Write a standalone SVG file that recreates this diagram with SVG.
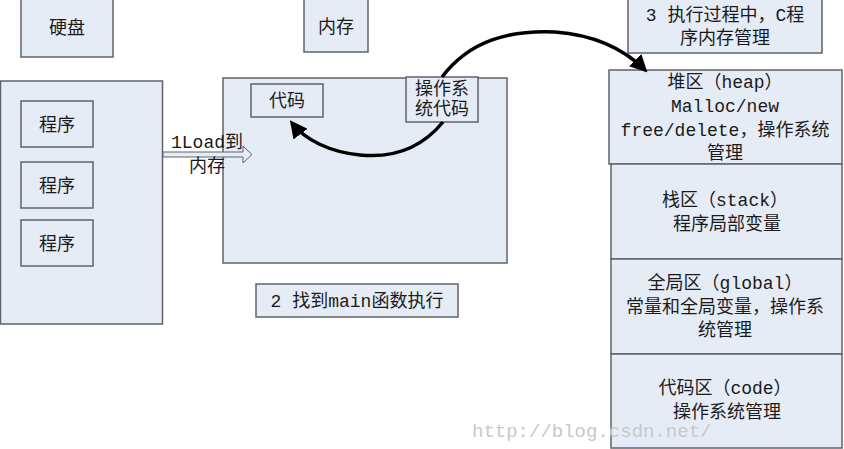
<svg xmlns="http://www.w3.org/2000/svg" width="844" height="449" viewBox="0 0 844 449">
<style>
.box{fill:#E6ECF6;stroke:#5f6368;stroke-width:1.5}
.t{font-family:"Liberation Mono","Noto Sans CJK SC",monospace;font-size:18px;fill:#1a1a1a;text-anchor:middle}
.c{fill:none;stroke:#000;stroke-width:3.5}
.wm{font-family:"Liberation Mono",monospace;font-size:19px;fill:#c8c8c8}
</style>
<defs>
<marker id="ah" viewBox="0 0 10 10" refX="8" refY="5" markerWidth="5" markerHeight="5" orient="auto" markerUnits="strokeWidth">
<path d="M0,0 L10,5 L0,10 z" fill="#000"/>
</marker>
</defs>
<rect width="844" height="449" fill="#fff"/>
<g id="disk-label"><rect class="box" x="21" y="-1" width="92" height="58"/><text class="t" x="67" y="34">硬盘</text></g>
<g id="disk"><rect class="box" x="0.5" y="81" width="162" height="243"/></g>
<g id="prog1"><rect class="box" x="21" y="101" width="72" height="46"/><text class="t" x="57" y="131">程序</text></g>
<g id="prog2"><rect class="box" x="21" y="162" width="72" height="46"/><text class="t" x="57" y="192">程序</text></g>
<g id="prog3"><rect class="box" x="21" y="220" width="72" height="46"/><text class="t" x="57" y="250">程序</text></g>
<g id="mem-label"><rect class="box" x="304" y="-1" width="64" height="53"/><text class="t" x="336" y="33">内存</text></g>
<g id="mem"><rect class="box" x="223" y="78" width="284" height="185"/></g>
<g id="code"><rect class="box" x="251" y="84" width="72" height="33"/><text class="t" x="287" y="107">代码</text></g>
<g id="oscode"><rect class="box" x="406" y="77" width="72" height="45"/><text class="t" x="442" y="95">操作系</text><text class="t" x="442" y="115">统代码</text></g>
<g id="step2"><rect class="box" x="256" y="284" width="202" height="33"/><text class="t" x="357" y="307">2 找到main函数执行</text></g>
<g id="step3"><rect class="box" x="628" y="-1" width="194" height="54"/><text class="t" x="725" y="21">3 执行过程中，C程</text><text class="t" x="725" y="44">序内存管理</text></g>
<g id="heap"><rect class="box" x="609" y="70" width="233" height="94"/><text class="t" x="725" y="88">堆区（heap）</text><text class="t" x="725" y="112">Malloc/new</text><text class="t" x="725" y="136">free/delete，操作系统</text><text class="t" x="725" y="159">管理</text></g>
<g id="stack"><rect class="box" x="611" y="164" width="231" height="95"/><text class="t" x="725" y="206">栈区（stack）</text><text class="t" x="727" y="230">程序局部变量</text></g>
<g id="global"><rect class="box" x="611" y="259" width="231" height="95"/><text class="t" x="725" y="289">全局区（global）</text><text class="t" x="725" y="313">常量和全局变量，操作系</text><text class="t" x="725" y="336">统管理</text></g>
<g id="codeseg"><rect class="box" x="611" y="354" width="231" height="94"/><text class="t" x="725" y="394">代码区（code）</text><text class="t" x="727" y="418">操作系统管理</text></g>
<g id="connectors">
<path d="M163,152 H243 V146 L252,154.5 L243,163 V157 H163 z" fill="#E6ECF6" stroke="#5f6368" stroke-width="1"/>
<text class="t" x="207" y="148">1Load到</text>
<text class="t" x="207" y="172">内存</text>
<path class="c" d="M443,122 C420,150 390,158 360,155 C330,152 305,140 292,123" marker-end="url(#ah)"/>
<path class="c" d="M442,77 C470,40 510,30 555,32 C595,35 625,50 645,70" marker-end="url(#ah)"/>
</g>
<text class="wm" x="472" y="437">http://blog.csdn.net/</text>
</svg>
